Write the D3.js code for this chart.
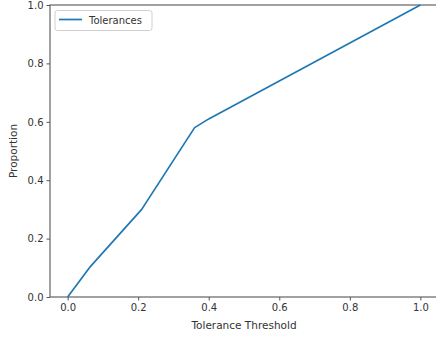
<!DOCTYPE html>
<html>
<head>
<meta charset="utf-8">
<script src="https://cdn.jsdelivr.net/npm/d3@7"></script>
<style>
  html, body { margin: 0; padding: 0; background: #fff; }
  svg { display: block; font-family: "DejaVu Sans", sans-serif; }
</style>
</head>
<body>
<svg id="chart" width="436" height="338"></svg>
<script>
// Cumulative proportion of cases within each tolerance threshold
const thresholds  = [0.0, 0.065, 0.21, 0.36, 0.40, 0.50, 0.60, 0.80, 1.00];
const proportions = [0.0, 0.105, 0.30, 0.58, 0.61, 0.675, 0.74, 0.87, 1.00];
const xTicks = [0.0, 0.2, 0.4, 0.6, 0.8, 1.0];
const yTicks = [0.0, 0.2, 0.4, 0.6, 0.8, 1.0];
const seriesName = "Tolerances";

const svg = d3.select("#chart");
const plotLeft = 50, plotRight = 438, plotTop = 5, plotBottom = 297;

const x = d3.scaleLinear().domain([-0.05, 1.05]).range([plotLeft, plotRight]);
const y = d3.scaleLinear().domain([0, 1]).range([plotBottom, plotTop]);

const axisColor = "#555";

// Spines
svg.append("rect")
  .attr("x", plotLeft).attr("y", plotTop)
  .attr("width", plotRight - plotLeft).attr("height", plotBottom - plotTop)
  .attr("fill", "none").attr("stroke", axisColor).attr("stroke-width", 1.1);

// X axis
const xAxis = svg.append("g")
  .attr("transform", `translate(0,${plotBottom})`)
  .call(d3.axisBottom(x).tickValues(xTicks).tickFormat(d3.format(".1f")).tickSize(3.5).tickPadding(3));
// Y axis
const yAxis = svg.append("g")
  .attr("transform", `translate(${plotLeft},0)`)
  .call(d3.axisLeft(y).tickValues(yTicks).tickFormat(d3.format(".1f")).tickSize(3.5).tickPadding(3));

[xAxis, yAxis].forEach(g => {
  g.select(".domain").remove();
  g.selectAll(".tick line").attr("stroke", axisColor).attr("stroke-width", 1);
  g.selectAll(".tick text").attr("fill", "#333").style("font-size", "10px").style("font-family", "DejaVu Sans, sans-serif");
});

// Axis titles
svg.append("text")
  .attr("x", 244).attr("y", 329)
  .attr("text-anchor", "middle").attr("fill", "#333")
  .style("font-size", "10.5px")
  .text("Tolerance Threshold");

svg.append("text")
  .attr("transform", `translate(17,${(plotTop + plotBottom) / 2}) rotate(-90)`)
  .attr("text-anchor", "middle").attr("fill", "#333")
  .style("font-size", "10.5px")
  .text("Proportion");

// Series line
const data = thresholds.map((t, i) => ({ t, p: proportions[i] }));
svg.append("path")
  .datum(data)
  .attr("fill", "none")
  .attr("stroke", "#1f77b4")
  .attr("stroke-width", 1.7)
  .attr("stroke-linejoin", "round")
  .attr("d", d3.line().x(d => x(d.t)).y(d => y(d.p)));

// Legend
const legend = svg.append("g").attr("transform", "translate(55,10.5)");
legend.append("rect")
  .attr("width", 97).attr("height", 20).attr("rx", 2.5)
  .attr("fill", "#fff").attr("fill-opacity", 0.8)
  .attr("stroke", "#d0d0d0").attr("stroke-width", 1);
legend.append("line")
  .attr("x1", 4).attr("x2", 27).attr("y1", 9).attr("y2", 9)
  .attr("stroke", "#1f77b4").attr("stroke-width", 1.7);
legend.append("text")
  .attr("x", 34).attr("y", 13)
  .attr("fill", "#333").style("font-size", "10px")
  .text(seriesName);
</script>
</body>
</html>
